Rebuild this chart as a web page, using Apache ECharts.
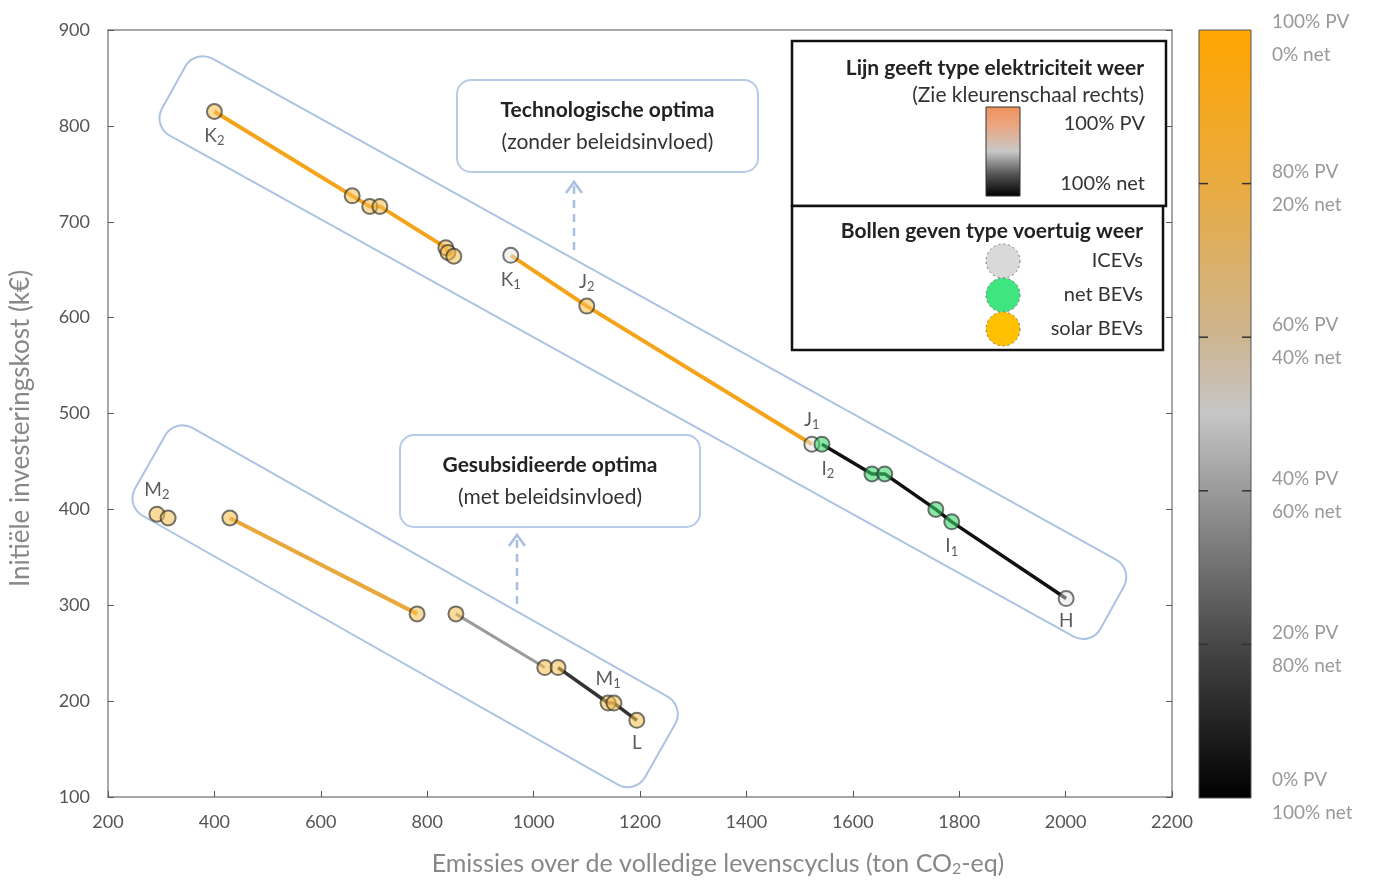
<!DOCTYPE html>
<html>
<head>
<meta charset="utf-8">
<script src="https://cdn.jsdelivr.net/npm/echarts@6/dist/echarts.min.js"></script>
<style>
html,body{margin:0;padding:0;background:#fff;}
#chart{width:1373px;height:880px;}
</style>
</head>
<body>
<div id="chart"></div>
<script>
// ---- Data ----
const xTickValues = [200,400,600,800,1000,1200,1400,1600,1800,2000,2200];
const yTickValues = [100,200,300,400,500,600,700,800,900];

// line segments (electricity type)
const upperSolarLine = [[400,815],[659,727],[692,716],[711,716],[835,673],[839,668],[850,664]];
const upperPVLine    = [[957,665],[1100,612],[1523,468]];
const upperGridLine  = [[1542,468],[1636,437],[1660,437],[1756,400],[1786,387],[2001,307]];
const lowerPVLine    = [[429,391],[781,291]];
const lowerMixLine   = [[854,291],[1021,235]];
const lowerGridLine  = [[1046,235],[1140,198],[1151,198],[1194,180]];

// vehicle type points
const icevPoints   = [[957,665],[1523,468],[2001,307]];
const netBevPoints = [[1542,468],[1636,437],[1660,437],[1756,400],[1786,387]];
const solarBevPoints = [[400,815],[659,727],[692,716],[711,716],[835,673],[839,668],[850,664],[1100,612],
  [292,395],[313,391],[429,391],[781,291],[854,291],[1021,235],[1046,235],[1140,198],[1151,198],[1194,180]];

// point labels
const labelLetters = ['K','K','J','J','I','I','H','M','M','L'];
const labelSubs    = ['2','1','2','1','2','1','','2','1',''];
const labelCoords  = [[400,815],[957,665],[1100,612],[1523,468],[1542,468],[1786,387],[2001,307],[292,395],[1140,198],[1194,180]];
const labelSides   = ['bottom','bottom','top','top','bottom','bottom','bottom','top','top','bottom'];

const colorbarLabels = [['100% PV','0% net'],['80% PV','20% net'],['60% PV','40% net'],['40% PV','60% net'],['20% PV','80% net'],['0% PV','100% net']];

// ---- Chart ----
const FONT = 'Lato';
const chart = echarts.init(document.getElementById('chart'), null, {renderer:'canvas'});

const G = { left:108, top:30, right:1172, bottom:797 };

function lineSeries(data, color, width){
  return {type:'line', data:data, symbol:'none', z:2, silent:true,
    lineStyle:{color:color, width:width}, animation:false};
}
function markerSeries(data, fill){
  return {type:'scatter', data:data, symbol:'circle', symbolSize:15, z:5, animation:false,
    itemStyle:{color:fill, borderColor:'rgba(40,40,40,0.8)', borderWidth:2}};
}

const labelData = labelCoords.map((c,i)=>({
  value:c,
  label:{show:true, position:labelSides[i],
    distance: 6,
    offset: i===4 ? [6,0] : [0,0],
    formatter: labelSubs[i] ? '{b|'+labelLetters[i]+'}{s|'+labelSubs[i]+'}' : '{b|'+labelLetters[i]+'}'}
}));

const graphics = [];
// bands
graphics.push({type:'rect', x:195, y:49, rotation:-29*Math.PI/180, shape:{x:0,y:0,width:1073,height:88,r:20},
  style:{fill:'none', stroke:'#adc3e2', lineWidth:2}, z:1, silent:true});
graphics.push({type:'rect', x:175, y:418, rotation:-29.5*Math.PI/180, shape:{x:0,y:0,width:586,height:101,r:20},
  style:{fill:'none', stroke:'#adc3e2', lineWidth:2}, z:1, silent:true});
// annotation boxes
function annBox(x,y,w,h,t1,t2){
  graphics.push({type:'rect', shape:{x:x,y:y,width:w,height:h,r:14}, style:{fill:'#fff', stroke:'#b7cbe8', lineWidth:2}, z:3});
  graphics.push({type:'text', x:x+w/2, y:y+30, style:{text:t1, font:'bold 21px '+FONT, fill:'#222', align:'center', verticalAlign:'middle'}, z:4});
  graphics.push({type:'text', x:x+w/2, y:y+62, style:{text:t2, font:'21px '+FONT, fill:'#333', align:'center', verticalAlign:'middle'}, z:4});
}
annBox(457,80,301,92,'Technologische optima','(zonder beleidsinvloed)');
annBox(400,435,300,92,'Gesubsidieerde optima','(met beleidsinvloed)');
function dashedArrow(x,y1,y2){
  graphics.push({type:'line', shape:{x1:x,y1:y1,x2:x,y2:y2+4}, style:{stroke:'#a9bfe0', lineWidth:2.5, lineDash:[8,6]}, z:3});
  graphics.push({type:'polyline', shape:{points:[[x-8,y2+11],[x,y2],[x+8,y2+11]]}, style:{stroke:'#a9bfe0', lineWidth:2.5, fill:'none'}, z:3});
}
dashedArrow(574,250,182);
dashedArrow(517,604,535);

// legend box 1
graphics.push({type:'rect', shape:{x:792,y:41,width:374,height:165}, style:{fill:'#fff', stroke:'#111', lineWidth:2.5}, z:6});
graphics.push({type:'text', x:1144, y:68, style:{text:'Lijn geeft type elektriciteit weer', font:'bold 21px '+FONT, fill:'#222', align:'right', verticalAlign:'middle'}, z:7});
graphics.push({type:'text', x:1144, y:95, style:{text:'(Zie kleurenschaal rechts)', font:'21px '+FONT, fill:'#333', align:'right', verticalAlign:'middle'}, z:7});
graphics.push({type:'rect', shape:{x:986,y:107,width:34,height:89},
  style:{fill:new echarts.graphic.LinearGradient(0,0,0,1,[
    {offset:0,color:'#f0915a'},{offset:0.2,color:'#eba57e'},{offset:0.5,color:'#c8c8c8'},{offset:0.75,color:'#555'},{offset:1,color:'#000'}]),
    stroke:'#333', lineWidth:1}, z:7});
graphics.push({type:'text', x:1145, y:124, style:{text:'100% PV', font:'20px '+FONT, fill:'#333', align:'right', verticalAlign:'middle'}, z:7});
graphics.push({type:'text', x:1145, y:184, style:{text:'100% net', font:'20px '+FONT, fill:'#333', align:'right', verticalAlign:'middle'}, z:7});
// legend box 2
graphics.push({type:'rect', shape:{x:792,y:206,width:371,height:144}, style:{fill:'#fff', stroke:'#111', lineWidth:2.5}, z:6});
graphics.push({type:'text', x:1143, y:231, style:{text:'Bollen geven type voertuig weer', font:'bold 21px '+FONT, fill:'#222', align:'right', verticalAlign:'middle'}, z:7});
const legCircles = [['#d9d9d9','ICEVs',261],['#3fe57f','net BEVs',295],['#ffc000','solar BEVs',329]];
legCircles.forEach(c=>{
  graphics.push({type:'circle', shape:{cx:1003,cy:c[2],r:17}, style:{fill:c[0], stroke:'#777', lineWidth:1, lineDash:[2,3]}, z:7});
  graphics.push({type:'text', x:1143, y:c[2], style:{text:c[1], font:'20px '+FONT, fill:'#333', align:'right', verticalAlign:'middle'}, z:7});
});

// colour bar
const cbX=1199, cbY=30, cbW=52, cbH=768;
graphics.push({type:'rect', shape:{x:cbX,y:cbY,width:cbW,height:cbH},
  style:{fill:new echarts.graphic.LinearGradient(0,0,0,1,[
    {offset:0,color:'#ffa500'},{offset:0.2,color:'#e9ab40'},{offset:0.4,color:'#cdb590'},{offset:0.5,color:'#c6c6c6'},
    {offset:0.6,color:'#9a9a9a'},{offset:0.8,color:'#474747'},{offset:1,color:'#000'}]),
    stroke:'#555', lineWidth:1}, z:2});
[0.2,0.4,0.6,0.8].forEach(f=>{
  const yy = cbY + cbH*f;
  graphics.push({type:'line', shape:{x1:cbX,y1:yy,x2:cbX+9,y2:yy}, style:{stroke:'#333', lineWidth:1.5}, z:3});
  graphics.push({type:'line', shape:{x1:cbX+cbW-9,y1:yy,x2:cbX+cbW,y2:yy}, style:{stroke:'#333', lineWidth:1.5}, z:3});
});
colorbarLabels.forEach((l,i)=>{
  const yy = cbY + cbH*i/5;
  const off = i===0 ? -8 : (i===5 ? -18 : -12);
  graphics.push({type:'text', x:1272, y:yy+off, style:{text:l[0], font:'19px '+FONT, fill:'#999', align:'left', verticalAlign:'middle'}, z:3});
  graphics.push({type:'text', x:1272, y:yy+off+33, style:{text:l[1], font:'19px '+FONT, fill:'#999', align:'left', verticalAlign:'middle'}, z:3});
});

const option = {
  animation:false,
  backgroundColor:'#fff',
  textStyle:{fontFamily:FONT},
  grid:{left:G.left, top:G.top, width:G.right-G.left, height:G.bottom-G.top, containLabel:false, outerBoundsMode:'none'},
  xAxis:[{
    type:'value', min:200, max:2200, interval:200, position:'bottom',
    axisLine:{show:true, onZero:false, lineStyle:{color:'#8a8a8a', width:1.5}},
    axisTick:{show:true, inside:true, length:6, lineStyle:{color:'#555'}},
    axisLabel:{color:'#555', fontSize:18, fontFamily:FONT, margin:16, formatter:v=>String(v)},
    splitLine:{show:false},
    name:'Emissies over de volledige levenscyclus (ton CO{s|2}-eq)',
    nameLocation:'middle', nameGap:54,
    nameTextStyle:{color:'#888', fontSize:25, fontFamily:FONT, padding:[0,0,0,156], lineHeight:26,
      rich:{s:{fontSize:16, color:'#888', padding:[9,0,0,0], fontFamily:FONT}}}
  },{
    type:'value', min:200, max:2200, interval:200, position:'top',
    axisLine:{show:true, onZero:false, lineStyle:{color:'#8a8a8a', width:1.5}},
    axisTick:{show:false}, axisLabel:{show:false}, splitLine:{show:false}
  }],
  yAxis:[{
    type:'value', min:100, max:900, interval:100, position:'left',
    axisLine:{show:true, onZero:false, lineStyle:{color:'#8a8a8a', width:1.5}},
    axisTick:{show:true, inside:true, length:6, lineStyle:{color:'#555'}},
    axisLabel:{color:'#555', fontSize:18, fontFamily:FONT, margin:18, formatter:v=>String(v)},
    splitLine:{show:false},
    name:'Initiële investeringskost (k€)', nameLocation:'middle', nameGap:74, nameRotate:90,
    nameTextStyle:{color:'#888', fontSize:26, fontFamily:FONT, padding:[0,30,0,0]}
  },{
    type:'value', min:100, max:900, interval:100, position:'right',
    axisLine:{show:true, onZero:false, lineStyle:{color:'#8a8a8a', width:1.5}},
    axisTick:{show:true, inside:true, length:6, lineStyle:{color:'#555'}},
    axisLabel:{show:false}, splitLine:{show:false}
  }],
  series:[
    lineSeries(upperSolarLine,'#f5a319',4),
    lineSeries(upperPVLine,'#f5a319',4),
    lineSeries(upperGridLine,'#111',3.5),
    lineSeries(lowerPVLine,'#eaa73c',4),
    lineSeries(lowerMixLine,'#9b9b9b',3),
    lineSeries(lowerGridLine,'#333',3.5),
    markerSeries(icevPoints,'rgba(225,225,225,0.6)'),
    markerSeries(netBevPoints,'rgba(60,215,110,0.75)'),
    markerSeries(solarBevPoints,'rgba(245,190,80,0.7)'),
    {type:'scatter', data:labelData, symbolSize:14, z:6, silent:true, animation:false,
      itemStyle:{color:'rgba(0,0,0,0)'},
      label:{show:true, color:'#333',
        rich:{b:{fontSize:19, color:'#333', fontFamily:FONT}, s:{fontSize:13, color:'#333', fontFamily:FONT, padding:[10,0,0,0]}}}}
  ],
  graphic:{elements:graphics}
};
chart.setOption(option);
</script>
</body>
</html>
